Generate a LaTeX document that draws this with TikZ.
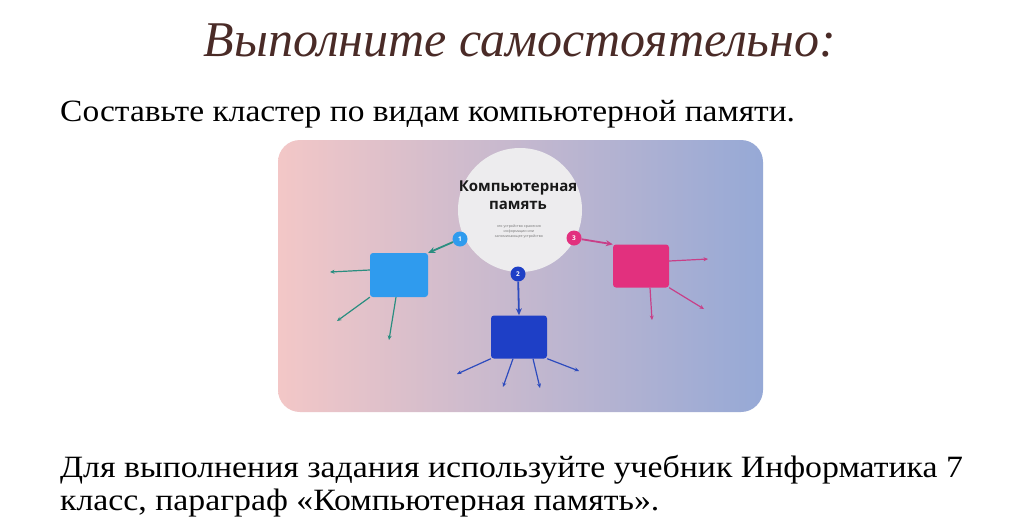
\documentclass[tikz,border=0pt]{standalone}
\usepackage{fontspec}
\setmainfont{Liberation Serif}
\newfontfamily\titlefont[FakeStretch=1.0]{Liberation Serif}
\newfontfamily\bodyfont[FakeStretch=1.08]{Liberation Serif}
\newfontfamily\bodyfontb[FakeStretch=1.09]{Liberation Serif}
\newfontfamily\uifont{Open Sans}
\usetikzlibrary{arrows.meta,shadows}
\definecolor{titlebrown}{HTML}{4A2B27}
\definecolor{panelL}{HTML}{F3C7C7}
\definecolor{panelR}{HTML}{96A9D6}
\definecolor{boxA}{HTML}{2F9BEE}
\definecolor{boxB}{HTML}{1E3FC6}
\definecolor{boxC}{HTML}{E2307E}
\definecolor{arrA}{HTML}{2A8E80}
\definecolor{arrB}{HTML}{2D4BBE}
\definecolor{arrC}{HTML}{C83F88}
\definecolor{circfill}{HTML}{EDECEE}
\tikzset{
  membox/.style={draw=none, rounded corners=3pt, minimum width=#1, inner sep=0pt},
  badge/.style={circle, fill=#1, minimum size=15pt, inner sep=0pt, text=white, font=\uifont\bfseries\fontsize{6.5}{6.5}\selectfont},
  conn/.style={draw=#1, line width=1.8pt, -{Stealth[length=7pt,width=6pt]}},
  leaf/.style={draw=#1, line width=1.2pt, -{Stealth[length=4.5pt,width=4pt]}},
}
\begin{document}
\begin{tikzpicture}[x=1pt,y=-1pt]
\useasboundingbox (0,0) rectangle (1024,525);
\fill[white] (0,0) rectangle (1024,525);
% title
\node[anchor=base, text=titlebrown, font=\titlefont\itshape\fontsize{50}{54}\selectfont] (title) at (520,56) {Выполните самостоятельно:};
% task line
\node[anchor=base west, inner sep=0pt, font=\bodyfont\fontsize{31}{36}\selectfont] (task) at (60,121) {Составьте кластер по видам компьютерной памяти.};
% panel
\shade[left color=panelL, right color=panelR, rounded corners=22pt] (278,140) rectangle (763,412);
% central circle
\node[circle, fill=circfill, minimum size=124pt, inner sep=0pt] (mem) at (520,210) {};
\node[font=\uifont\bfseries\fontsize{15}{18}\selectfont, align=center, text=black!90] (memtitle) at (518,195) {Компьютерная\\память};
\node[font=\uifont\fontsize{3.6}{5}\selectfont, align=center, text=black!55] (memtext) at (519,232) {это устройство хранения\\информации или\\запоминающее устройство};
% boxes
\node[membox=58pt, minimum height=44pt, fill=boxA] (boxa) at (399,275) {};
\node[membox=56pt, minimum height=43pt, fill=boxB] (boxb) at (519,337) {};
\node[membox=56pt, minimum height=43pt, fill=boxC] (boxc) at (641,266) {};
% badges
\node[badge=boxA] (b1) at (460,239) {1};
\node[badge=boxB] (b2) at (518,274) {2};
\node[badge=boxC] (b3) at (574,238) {3};
% main connectors
\draw[conn=arrA] (b1) -- (boxa.north east);
\draw[conn=arrB] (b2) -- (boxb.north);
\draw[conn=arrC] (b3) -- (boxc.north west);
% leaf ends
\coordinate (a1) at (330,272);
\coordinate (a2) at (337,321);
\coordinate (a3) at (389,340);
\coordinate (bl1) at (457,374);
\coordinate (bl2) at (503,387);
\coordinate (bl3) at (540,388);
\coordinate (bl4) at (579,371);
\coordinate (c1) at (708,259);
\coordinate (c2) at (704,309);
\coordinate (c3) at (652,320);
% leaves A
\draw[leaf=arrA] (boxa.west |- 0,270) -- (a1);
\draw[leaf=arrA] (boxa.south west) -- (a2);
\draw[leaf=arrA] ([xshift=-3pt]boxa.south) -- (a3);
% leaves B
\draw[leaf=arrB] (boxb.south west) -- (bl1);
\draw[leaf=arrB] ([xshift=-6pt]boxb.south) -- (bl2);
\draw[leaf=arrB] ([xshift=14pt]boxb.south) -- (bl3);
\draw[leaf=arrB] (boxb.south east) -- (bl4);
% leaves C
\draw[leaf=arrC] (boxc.east |- 0,261) -- (c1);
\draw[leaf=arrC] (boxc.south east) -- (c2);
\draw[leaf=arrC] ([xshift=9pt]boxc.south) -- (c3);
% bottom text
\node[anchor=base west, inner sep=0pt, font=\bodyfontb\fontsize{31}{36}\selectfont] (note1) at (60,477) {Для выполнения задания используйте учебник Информатика 7};
\node[anchor=base west, inner sep=0pt, font=\bodyfontb\fontsize{31}{36}\selectfont] (note2) at (60,510) {класс, параграф «Компьютерная память».};
\end{tikzpicture}
\end{document}
